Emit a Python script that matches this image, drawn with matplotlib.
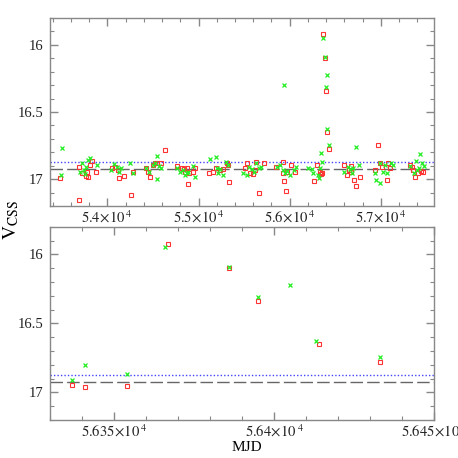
import matplotlib
matplotlib.use('Agg')
import matplotlib.pyplot as plt
from matplotlib.ticker import MultipleLocator, FuncFormatter

# green crosses (first photometry set)
mjd_x = [53499, 53488,
         53718, 53744, 53766, 53791, 53810, 53700, 53759, 53890,
         54040, 54073, 54102, 54124, 54146, 54249, 54278,
         54424, 54461, 54498, 54527, 54542, 54542, 54571, 54593,
         54761, 54798, 54827, 54853, 54871, 54889, 54944, 54962,
         55127, 55189, 55200, 55218, 55237, 55266, 55303, 55328,
         55493, 55529, 55559, 55584, 55610, 55632, 55658, 55683,
         55939, 55859, 55895, 55925, 55950, 55968, 56005, 56042, 56071,
         56206, 56243, 56261, 56316, 56327,
         56337, 56341, 56354, 56366, 56386, 56395, 56405, 56413, 56433,
         56591, 56645, 56664, 56693, 56730, 56755, 56682,
         56938, 56949, 56986, 56993, 57022, 57048, 57066, 57110, 57132,
         57323, 57359, 57388, 57414, 57432, 57451, 57476, 57396]
mag_x = [16.765, 16.965,
         16.881, 16.931, 16.906, 16.857, 16.844, 16.943, 16.96, 16.891,
         16.931, 16.886, 16.906, 16.95, 16.918, 16.877, 16.956,
         16.918, 16.943, 16.894, 16.881, 16.827, 17.0, 16.9, 16.918,
         16.918, 16.95, 16.931, 16.968, 16.956, 16.943, 16.901, 16.98,
         16.847, 16.832, 16.918, 16.956, 16.926, 16.968, 16.869, 16.894,
         16.956, 16.968, 16.906, 16.926, 16.943, 16.877, 16.918, 16.906,
         16.301, 16.906, 16.894, 16.931, 16.956, 16.936, 16.968, 16.931, 16.906,
         16.919, 16.926, 16.956, 16.968, 16.993,
         16.913, 16.804, 16.869, 15.947, 16.094, 16.312, 16.223, 16.625, 16.743,
         16.943, 16.906, 16.926, 16.918, 16.763, 16.894, 16.956,
         16.956, 17.005, 17.025, 16.881, 16.943, 16.894, 16.956, 16.881, 16.894,
         16.901, 16.956, 16.862, 16.918, 16.812, 16.881, 16.901, 16.931]

# red squares (second photometry set)
mjd_sq = [53484,
          53689, 53693, 53766, 53791, 53810, 53835, 53872, 53776, 53718,
          54048, 54084, 54132, 54183, 54121, 54256, 54278,
          54421, 54450, 54468, 54498, 54523, 54549, 54589, 54629,
          54768, 54816, 54842, 54853, 54878, 54889, 54900, 54937, 54962,
          55120, 55164, 55193, 55237, 55273, 55310, 55328, 55339,
          55511, 55537, 55566, 55595, 55621, 55632, 55658, 55723,
          55851, 55925, 55939, 55961, 55932, 55976, 56012, 56060,
          56269, 56298,
          56337, 56341, 56354, 56367, 56386, 56395, 56414, 56433,
          56591, 56634, 56656, 56675, 56700, 56730, 56766, 56671,
          56938, 56967, 56986, 57011, 57066, 57077, 57103,
          57315, 57352, 57377, 57403, 57440, 57462, 57341]
mag_sq = [16.993,
          16.906, 17.153, 16.975, 16.98, 16.894, 16.862, 16.948, 16.943, 16.956,
          16.918, 16.906, 16.993, 16.975, 16.931, 17.116, 16.943,
          16.918, 16.95, 16.98, 16.894, 16.881, 16.876, 16.881, 16.783,
          16.901, 16.918, 16.926, 16.943, 16.918, 17.037, 16.956, 16.95, 16.918,
          16.956, 16.95, 16.918, 16.931, 16.926, 16.881, 16.894, 17.02,
          16.918, 16.881, 16.956, 16.96, 16.931, 16.869, 17.104, 16.881,
          16.906, 16.869, 17.017, 17.091, 16.956, 16.943, 16.894, 16.943,
          17.017, 16.894,
          16.944, 16.961, 16.954, 15.923, 16.102, 16.341, 16.646, 16.777,
          16.894, 16.968, 16.931, 16.901, 17.005, 17.049, 16.985, 16.943,
          16.931, 16.746, 16.881, 16.906, 17.005, 16.876, 16.918,
          16.894, 16.931, 16.985, 16.956, 16.936, 16.943, 16.906]

mean_mag = 16.925      # dashed line
limit_mag = 16.875     # dotted line

plt.rcParams['font.family'] = 'Liberation Serif'
plt.rcParams['mathtext.fontset'] = 'stix'
frame_col = '#888888'


def sci_label(v, pos):
    # SM style label: mantissa x 10 with a small detached exponent
    return r'$%s\!\times\!10\,^{4}$' % ('%g' % (v / 1e4))


def style_axes(ax, major, minor):
    for s in ax.spines.values():
        s.set_color(frame_col)
        s.set_linewidth(1.0)
    ax.xaxis.set_major_locator(MultipleLocator(major))
    ax.xaxis.set_minor_locator(MultipleLocator(minor))
    ax.xaxis.set_major_formatter(FuncFormatter(sci_label))
    ax.yaxis.set_major_locator(MultipleLocator(0.5))
    ax.yaxis.set_minor_locator(MultipleLocator(0.1))
    ax.yaxis.set_major_formatter(FuncFormatter(lambda v, p: '%g' % v))
    ax.tick_params(which='both', direction='in', top=True, right=True,
                   color=frame_col, labelsize=10.5, labelcolor='#222222')
    ax.tick_params(which='major', length=5.5, width=1.0, pad=5)
    ax.tick_params(axis='x', which='major', pad=2.5)
    ax.tick_params(which='minor', length=2.8, width=0.8)
    ax.set_ylim(17.2, 15.8)


def draw(ax):
    ax.axhline(limit_mag, color='#4444ff', linestyle=(0, (1, 1.5)), linewidth=1.0)
    ax.axhline(mean_mag, color='#666666', linestyle=(0, (9, 3)), linewidth=1.0)
    ax.plot(mjd_sq, mag_sq, linestyle='none', marker='s', markersize=3.5,
            markerfacecolor='none', markeredgecolor='#ff3333', markeredgewidth=0.8)
    ax.plot(mjd_x, mag_x, linestyle='none', marker='x', markersize=3.3,
            color='#22ee22', markeredgewidth=0.9)


fig = plt.figure(figsize=(4.58, 4.58), dpi=100)
ax1 = fig.add_axes([0.109, 0.550, 0.839, 0.411])
ax2 = fig.add_axes([0.109, 0.083, 0.839, 0.422])

draw(ax1)
style_axes(ax1, 1000, 200)
ax1.set_xlim(53370, 57585)

draw(ax2)
style_axes(ax2, 50, 10)
ax2.set_xlim(56330, 56450)

fig.text(0.539, 0.022, 'MJD', fontsize=11, ha='center', va='center')
fig.text(0.025, 0.52, r'$\mathrm{V}_{\mathrm{CSS}}$', rotation=90, fontsize=14,
         ha='center', va='center')

fig.savefig('out.png', dpi=100)
